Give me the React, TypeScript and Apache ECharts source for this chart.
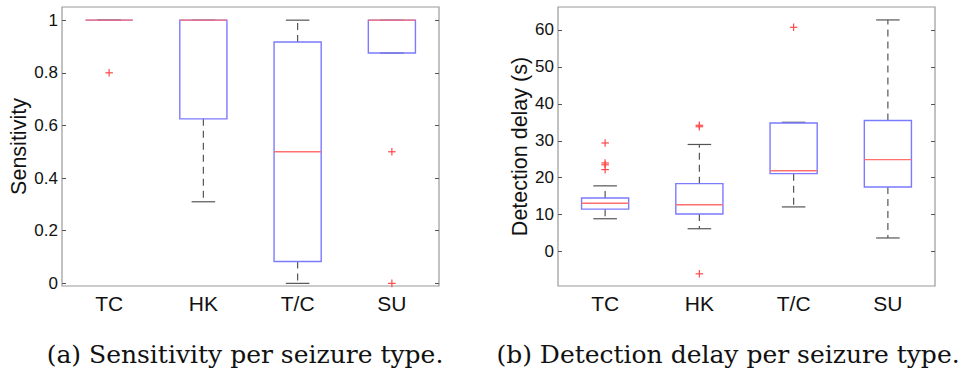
import React, { useEffect, useRef } from "react";
import * as echarts from "echarts";

const categories = ["TC", "HK", "T/C", "SU"];

// Sensitivity box statistics
const sensMin = [1, 0.31, 0, 0.875];
const sensQ1 = [1, 0.625, 0.083, 0.875];
const sensMedian = [1, 1, 0.5, 1];
const sensQ3 = [1, 1, 0.917, 1];
const sensMax = [1, 1, 1, 1];
const sensOutliers: [number, number][] = [
  [0, 0.8],
  [3, 0.5],
  [3, 0],
];
const sensTicks = [0, 0.2, 0.4, 0.6, 0.8, 1];

// Detection delay box statistics (s)
const delayMin = [8.9, 6.2, 12.1, 3.7];
const delayQ1 = [11.5, 10.2, 21.1, 17.5];
const delayMedian = [13.1, 12.7, 21.9, 24.9];
const delayQ3 = [14.5, 18.4, 34.8, 35.5];
const delayMax = [17.8, 29.0, 35.0, 62.7];
const delayOutliers: [number, number][] = [
  [0, 29.4],
  [0, 24.0],
  [0, 23.5],
  [0, 22.2],
  [1, 33.8],
  [1, 34.2],
  [1, -6.0],
  [2, 60.7],
];
const delayTicks = [0, 10, 20, 30, 40, 50, 60];

const captionA = "(a) Sensitivity per seizure type.";
const captionB = "(b) Detection delay per seizure type.";

const BOX_COLOR = "#7b7bff";
const MEDIAN_COLOR = "#ff7070";
const WHISKER_COLOR = "#555555";
const OUTLIER_COLOR = "#ff4a4a";
const FRAME_COLOR = "#9a9a9a";

function boxRenderItem(params: any, api: any) {
  const idx = api.value(0);
  const mn = api.value(1);
  const q1 = api.value(2);
  const md = api.value(3);
  const q3 = api.value(4);
  const mx = api.value(5);
  const band = api.size([1, 0])[0];
  const half = band * 0.25;
  const capHalf = half * 0.5;
  const pMin = api.coord([idx, mn]);
  const pQ1 = api.coord([idx, q1]);
  const pMd = api.coord([idx, md]);
  const pQ3 = api.coord([idx, q3]);
  const pMax = api.coord([idx, mx]);
  const xc = pMin[0];
  const dash = { stroke: WHISKER_COLOR, lineWidth: 1.2, lineDash: [7, 5] };
  const cap = { stroke: WHISKER_COLOR, lineWidth: 1.2 };
  const children: any[] = [];
  if (pMax[1] < pQ3[1] - 0.5) {
    children.push({ type: "line", shape: { x1: xc, y1: pQ3[1], x2: xc, y2: pMax[1] }, style: dash });
  }
  if (pMin[1] > pQ1[1] + 0.5) {
    children.push({ type: "line", shape: { x1: xc, y1: pQ1[1], x2: xc, y2: pMin[1] }, style: dash });
  }
  children.push({ type: "line", shape: { x1: xc - capHalf, y1: pMax[1], x2: xc + capHalf, y2: pMax[1] }, style: cap });
  children.push({ type: "line", shape: { x1: xc - capHalf, y1: pMin[1], x2: xc + capHalf, y2: pMin[1] }, style: cap });
  children.push({
    type: "rect",
    shape: { x: xc - half, y: pQ3[1], width: half * 2, height: pQ1[1] - pQ3[1] },
    style: { fill: "none", stroke: BOX_COLOR, lineWidth: 1.4 },
  });
  children.push({
    type: "line",
    shape: { x1: xc - half, y1: pMd[1], x2: xc + half, y2: pMd[1] },
    style: { stroke: MEDIAN_COLOR, lineWidth: 1.4 },
  });
  return { type: "group", children };
}

function outlierRenderItem(params: any, api: any) {
  const p = api.coord([api.value(0), api.value(1)]);
  const s = 3.8;
  const st = { stroke: OUTLIER_COLOR, lineWidth: 1.2 };
  return {
    type: "group",
    children: [
      { type: "line", shape: { x1: p[0] - s, y1: p[1], x2: p[0] + s, y2: p[1] }, style: st },
      { type: "line", shape: { x1: p[0], y1: p[1] - s, x2: p[0], y2: p[1] + s }, style: st },
    ],
  };
}

function buildBoxData(mn: number[], q1: number[], md: number[], q3: number[], mx: number[]) {
  return categories.map((_, i) => [i, mn[i], q1[i], md[i], q3[i], mx[i]]);
}

const SANS = "Liberation Sans";

function makeYAxes(gridIndex: number, min: number, max: number, ticks: number[], name: string, nameGap: number) {
  return [
    {
      type: "value",
      gridIndex,
      min,
      max,
      position: "left",
      name,
      nameLocation: "middle",
      nameGap,
      nameTextStyle: { fontSize: 21.5, color: "#111", fontFamily: SANS },
      splitLine: { show: false },
      axisLine: { show: false },
      axisTick: { show: true, inside: true, length: 4, customValues: ticks, lineStyle: { color: "#555" } },
      axisLabel: {
        customValues: ticks,
        fontSize: 17,
        color: "#111",
        fontFamily: SANS,
        margin: 4,
      },
    },
    {
      type: "value",
      gridIndex,
      min,
      max,
      position: "right",
      splitLine: { show: false },
      axisLine: { show: false },
      axisTick: { show: true, inside: true, length: 4, customValues: ticks, lineStyle: { color: "#555" } },
      axisLabel: { show: false, customValues: ticks },
    },
  ];
}

function makeXAxis(gridIndex: number) {
  return {
    type: "category",
    gridIndex,
    data: categories,
    boundaryGap: true,
    axisLine: { show: false },
    axisTick: { show: false },
    splitLine: { show: false },
    axisLabel: { fontSize: 21, color: "#111", fontFamily: SANS, margin: 7 },
  };
}

export default function App() {
  const ref = useRef<HTMLDivElement>(null);
  useEffect(() => {
    if (!ref.current) return;
    const chart = echarts.init(ref.current, undefined, { renderer: "svg" });
    const option: any = {
      animation: false,
      backgroundColor: "#ffffff",
      grid: [
        { left: 62, top: 7, width: 377, height: 279, show: true, borderColor: FRAME_COLOR, borderWidth: 1.2, backgroundColor: "transparent" },
        { left: 558, top: 7, width: 377, height: 279, show: true, borderColor: FRAME_COLOR, borderWidth: 1.2, backgroundColor: "transparent" },
      ],
      xAxis: [makeXAxis(0), makeXAxis(1)],
      yAxis: [
        ...makeYAxes(0, -0.01, 1.05, sensTicks, "Sensitivity", 32),
        ...makeYAxes(1, -9.3, 66.2, delayTicks, "Detection delay (s)", 26),
      ],
      series: [
        {
          type: "custom",
          xAxisIndex: 0,
          yAxisIndex: 0,
          renderItem: boxRenderItem,
          encode: { x: 0, y: [1, 2, 3, 4, 5] },
          data: buildBoxData(sensMin, sensQ1, sensMedian, sensQ3, sensMax),
          silent: true,
        },
        {
          type: "custom",
          xAxisIndex: 0,
          yAxisIndex: 0,
          renderItem: outlierRenderItem,
          encode: { x: 0, y: 1 },
          data: sensOutliers,
          silent: true,
        },
        {
          type: "custom",
          xAxisIndex: 1,
          yAxisIndex: 2,
          renderItem: boxRenderItem,
          encode: { x: 0, y: [1, 2, 3, 4, 5] },
          data: buildBoxData(delayMin, delayQ1, delayMedian, delayQ3, delayMax),
          silent: true,
        },
        {
          type: "custom",
          xAxisIndex: 1,
          yAxisIndex: 2,
          renderItem: outlierRenderItem,
          encode: { x: 0, y: 1 },
          data: delayOutliers,
          silent: true,
        },
      ],
      graphic: [
        {
          type: "text",
          x: 245,
          y: 354,
          style: {
            text: captionA,
            font: "25px 'DejaVu Serif', serif",
            fill: "#111",
            textAlign: "center",
            textVerticalAlign: "middle",
          },
        },
        {
          type: "text",
          x: 728,
          y: 354,
          style: {
            text: captionB,
            font: "25px 'DejaVu Serif', serif",
            fill: "#111",
            textAlign: "center",
            textVerticalAlign: "middle",
          },
        },
      ],
    };
    chart.setOption(option);
    return () => chart.dispose();
  }, []);
  return (
    <div
      ref={ref}
      style={{ position: "fixed", left: 0, top: 0, width: 970, height: 369, background: "#fff" }}
    />
  );
}
